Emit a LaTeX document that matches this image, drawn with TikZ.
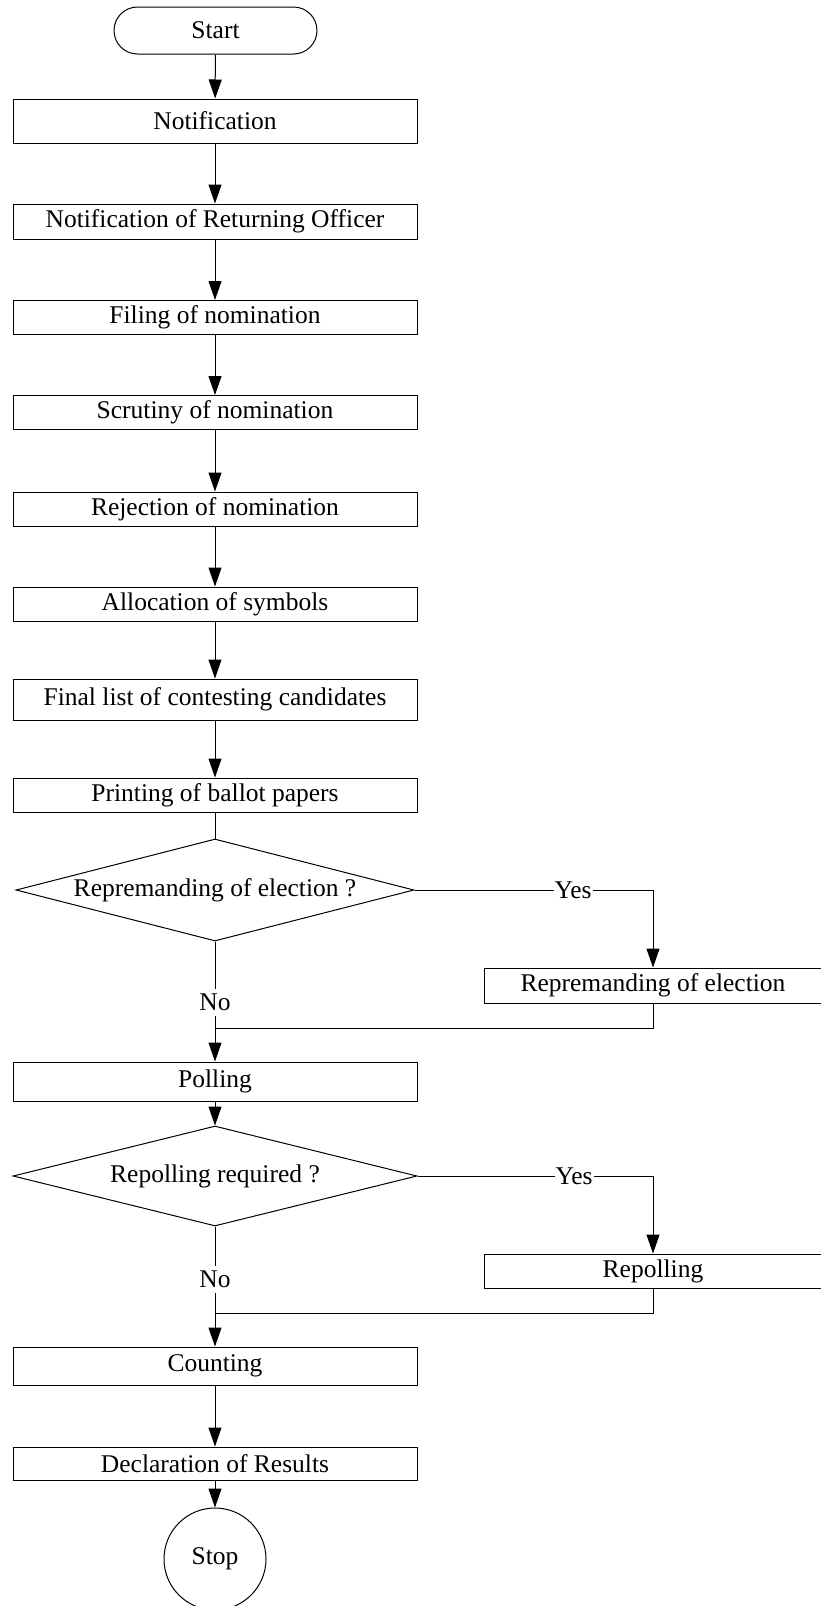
\documentclass[tikz,border=0pt]{standalone}
\usepackage{fontspec}
\setmainfont{Liberation Serif}
\usetikzlibrary{arrows.meta,shapes.geometric}
\newcommand{\fs}{\fontsize{25.5}{30}\selectfont}
\begin{document}
\begin{tikzpicture}[x=1pt,y=-1pt,line width=1pt,
  box/.style={draw, rectangle, minimum width=404pt, minimum height=34pt, inner sep=0pt, font=\fs},
  term/.style={draw, rectangle, rounded corners=23.5pt, minimum width=203pt, minimum height=47pt, inner sep=0pt, font=\fs},
  dec/.style={draw, diamond, shape aspect=3.9, inner sep=0pt, font=\fs},
  endc/.style={draw, circle, minimum size=102pt, inner sep=0pt, font=\fs},
  arr/.style={-{Triangle[length=19pt,width=13pt]}},
  lbl/.style={fill=white, inner xsep=1pt, inner ysep=5pt, font=\fs}]
\useasboundingbox (0,0) rectangle (821,1606);
\fill[white] (0,0) rectangle (821,1606);
\node[term] (start) at (215.5,30.5) {Start};
\node[box, minimum height=44pt] (n1) at (215,121) {Notification};
\node[box, minimum height=35pt] (n2) at (215,221.5) {Notification of Returning Officer};
\node[box] (n3) at (215,317.5) {Filing of nomination};
\node[box] (n4) at (215,412.5) {Scrutiny of nomination};
\node[box] (n5) at (215,509) {Rejection of nomination};
\node[box] (n6) at (215,604) {Allocation of symbols};
\node[box, minimum height=41pt] (n7) at (215,699.5) {Final list of contesting candidates};
\node[box] (n8) at (215,795) {Printing of ballot papers};
\node[dec, minimum width=398pt, minimum height=102pt] (d1) at (215,890) {Repremanding of election ?};
\node[box, minimum width=338pt, minimum height=35pt] (r1) at (653,985.5) {Repremanding of election};
\coordinate (m1) at (215,1028);
\node[box, minimum height=39pt] (poll) at (215,1081.5) {Polling};
\node[dec, minimum width=404pt, minimum height=100pt] (d2) at (215,1176) {Repolling required ?};
\node[box, minimum width=338pt] (r2) at (653,1271) {Repolling};
\coordinate (m2) at (215,1313);
\node[box, minimum height=38pt] (cnt) at (215,1366) {Counting};
\node[box, minimum height=33pt] (decl) at (215,1463.5) {Declaration of Results};
\node[endc] (stop) at (215,1559) {Stop};

\draw[arr] (start) -- (n1);
\draw[arr] (n1) -- (n2);
\draw[arr] (n2) -- (n3);
\draw[arr] (n3) -- (n4);
\draw[arr] (n4) -- (n5);
\draw[arr] (n5) -- (n6);
\draw[arr] (n6) -- (n7);
\draw[arr] (n7) -- (n8);
\draw (n8) -- (d1);
\draw[arr] (d1.east) -- node[lbl, pos=0.665] {Yes} (d1.east -| r1.north) -- (r1.north);
\draw (d1.south) -- node[lbl, pos=0.70] {No} (m1);
\draw (r1.south) |- (m1);
\draw[arr] (m1) -- (poll.north);
\draw[arr] (poll) -- (d2);
\draw[arr] (d2.east) -- node[lbl, pos=0.665] {Yes} (d2.east -| r2.north) -- (r2.north);
\draw (d2.south) -- node[lbl, pos=0.61] {No} (m2);
\draw (r2.south) |- (m2);
\draw[arr] (m2) -- (cnt.north);
\draw[arr] (cnt) -- (decl);
\draw[arr] (decl) -- (stop);
\end{tikzpicture}
\end{document}
